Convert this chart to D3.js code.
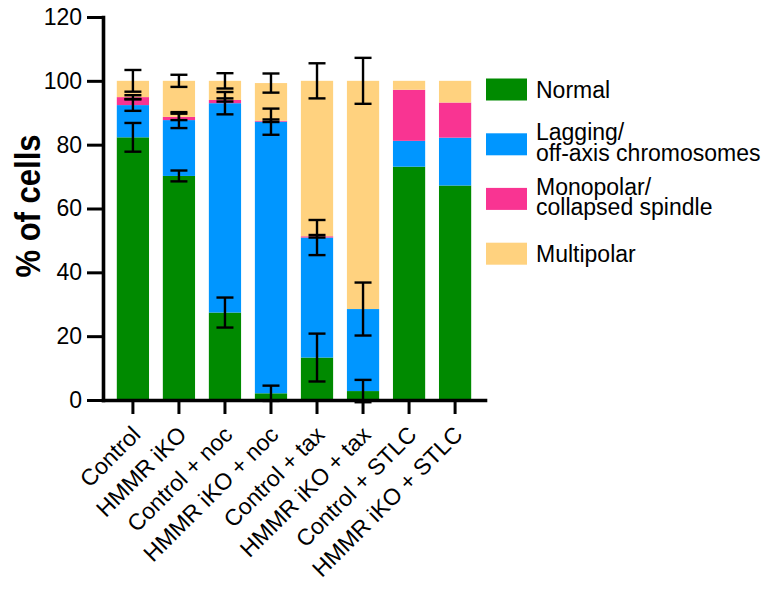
<!DOCTYPE html>
<html>
<head>
<meta charset="utf-8">
<script src="https://cdn.jsdelivr.net/npm/d3@7"></script>
<style>
  html, body { margin: 0; padding: 0; background: #fff; }
  svg { display: block; font-family: Arial, "Liberation Sans", Helvetica, sans-serif; }
</style>
</head>
<body>
<svg id="chart" width="764" height="591"></svg>
<script>
// Conditions along the x axis
const categories = [
  "Control", "HMMR iKO", "Control + noc", "HMMR iKO + noc",
  "Control + tax", "HMMR iKO + tax", "Control + STLC", "HMMR iKO + STLC"
];

// Mitotic phenotype, % of cells (mean)
const normal     = [82.3, 70.2, 27.4,  2.1, 13.3,  2.8, 73.1, 67.2];
const lagging    = [10.1, 17.5, 65.6, 85.1, 37.6, 25.7,  8.1, 15.0];
const monopolar  = [ 2.5,  1.0,  1.0,  0.3,  0.4,  0.0, 16.0, 11.0];
const multipolar = [ 5.1, 11.3,  6.0, 11.8, 48.7, 71.5,  2.8,  6.8];

// SD for each phenotype (no replicates for the STLC conditions)
const normalErr     = [4.5, 1.7, 4.7, 2.4, 7.5, 3.5, null, null];
const laggingErr    = [1.8, 2.5, 3.5, 4.1, 5.5, 8.3, null, null];
const monopolarErr  = [0.6, 1.0, 0.5, 0.4, 0.4, 0.0, null, null];
const multipolarErr = [3.4, 1.9, 2.4, 3.0, 5.5, 7.2, null, null];

const yTicks = [0, 20, 40, 60, 80, 100, 120];

const seriesKeys   = ["normal", "lagging", "monopolar", "multipolar"];
const seriesLabels = [["Normal"], ["Lagging/", "off-axis chromosomes"], ["Monopolar/", "collapsed spindle"], ["Multipolar"]];
const seriesColors = ["#008a00", "#0096ff", "#f93492", "#ffd27f"];
const seriesValues = [normal, lagging, monopolar, multipolar];
const seriesErrors = [normalErr, laggingErr, monopolarErr, multipolarErr];

// Row table for d3.stack
const table = categories.map((c, i) => {
  const row = { category: c, index: i };
  seriesKeys.forEach((k, s) => { row[k] = seriesValues[s][i]; });
  return row;
});

const svg = d3.select("#chart");
const FONT = "Arial, 'Liberation Sans', Helvetica, sans-serif";

const x = d3.scaleBand()
  .domain(categories)
  .range([103, 485])
  .paddingInner(0.3)
  .paddingOuter(0.3);

const y = d3.scaleLinear()
  .domain([0, 120])
  .range([400, 17]);

const color = d3.scaleOrdinal().domain(seriesKeys).range(seriesColors);

const stacked = d3.stack().keys(seriesKeys)(table);

// Stacked bars
svg.append("g")
  .selectAll("g")
  .data(stacked)
  .join("g")
    .attr("fill", d => color(d.key))
  .selectAll("rect")
  .data(d => d)
  .join("rect")
    .attr("x", d => x(d.data.category))
    .attr("width", x.bandwidth())
    .attr("y", d => y(d[1]))
    .attr("height", d => y(d[0]) - y(d[1]));

// Error bars at the top of each stacked segment
const errData = [];
stacked.forEach((layer, s) => {
  layer.forEach((d, i) => {
    const e = seriesErrors[s][i];
    if (e != null && e > 0) {
      errData.push({ category: d.data.category, top: d[1], err: e });
    }
  });
});

const capHalf = 8.5;
const eg = svg.append("g")
  .attr("stroke", "#000")
  .attr("stroke-width", 2.4)
  .attr("fill", "none");

const errG = eg.selectAll("g")
  .data(errData)
  .join("g")
    .attr("transform", d => `translate(${x(d.category) + x.bandwidth() / 2},0)`);

errG.append("line")
  .attr("x1", 0).attr("x2", 0)
  .attr("y1", d => y(d.top + d.err))
  .attr("y2", d => y(d.top - d.err));
errG.append("line")
  .attr("x1", -capHalf).attr("x2", capHalf)
  .attr("y1", d => y(d.top + d.err))
  .attr("y2", d => y(d.top + d.err));
errG.append("line")
  .attr("x1", -capHalf).attr("x2", capHalf)
  .attr("y1", d => y(d.top - d.err))
  .attr("y2", d => y(d.top - d.err));

// Y axis
const yAxisG = svg.append("g")
  .attr("transform", "translate(103,0)")
  .call(d3.axisLeft(y).tickValues(yTicks).tickSize(16).tickSizeOuter(0).tickPadding(5));

// X axis
const xAxisG = svg.append("g")
  .attr("transform", "translate(0,400)")
  .call(d3.axisBottom(x).tickSize(14).tickSizeOuter(0));

[yAxisG, xAxisG].forEach(g => {
  g.select(".domain").attr("stroke-width", 3.6).attr("stroke-linecap", "square");
  g.selectAll(".tick line").attr("stroke-width", 3);
  g.selectAll("text").attr("font-size", 23).attr("fill", "#000")
    .attr("font-family", FONT);
});

xAxisG.selectAll(".tick text")
  .attr("x", 0)
  .attr("y", 0)
  .attr("dy", 0)
  .attr("text-anchor", "end")
  .attr("transform", "translate(9,36) rotate(-45)");

// Y axis title
svg.append("text")
  .attr("transform", "translate(39.5,206) rotate(-90) scale(0.97,1.12)")
  .attr("text-anchor", "middle")
  .attr("font-size", 32)
  .attr("font-weight", "bold")
  .text("% of cells");

// Legend
const legend = svg.append("g").attr("transform", "translate(486,0)");
const legendCenters = [89.5, 144.3, 198.9, 253.7];
const legendItems = legend.selectAll("g")
  .data(seriesKeys)
  .join("g")
    .attr("transform", (d, i) => `translate(0,${legendCenters[i]})`);

legendItems.append("rect")
  .attr("x", 0).attr("y", -11)
  .attr("width", 41).attr("height", 22)
  .attr("fill", d => color(d));

legendItems.append("text")
  .attr("x", 50)
  .attr("font-size", 23)
  .each(function(d, i) {
    const lines = seriesLabels[i];
    const t = d3.select(this);
    const first = lines.length === 1 ? 8 : -4;
    lines.forEach((ln, j) => {
      t.append("tspan").attr("x", 50).attr("y", first + j * 20.5).text(ln);
    });
  });
</script>
</body>
</html>
